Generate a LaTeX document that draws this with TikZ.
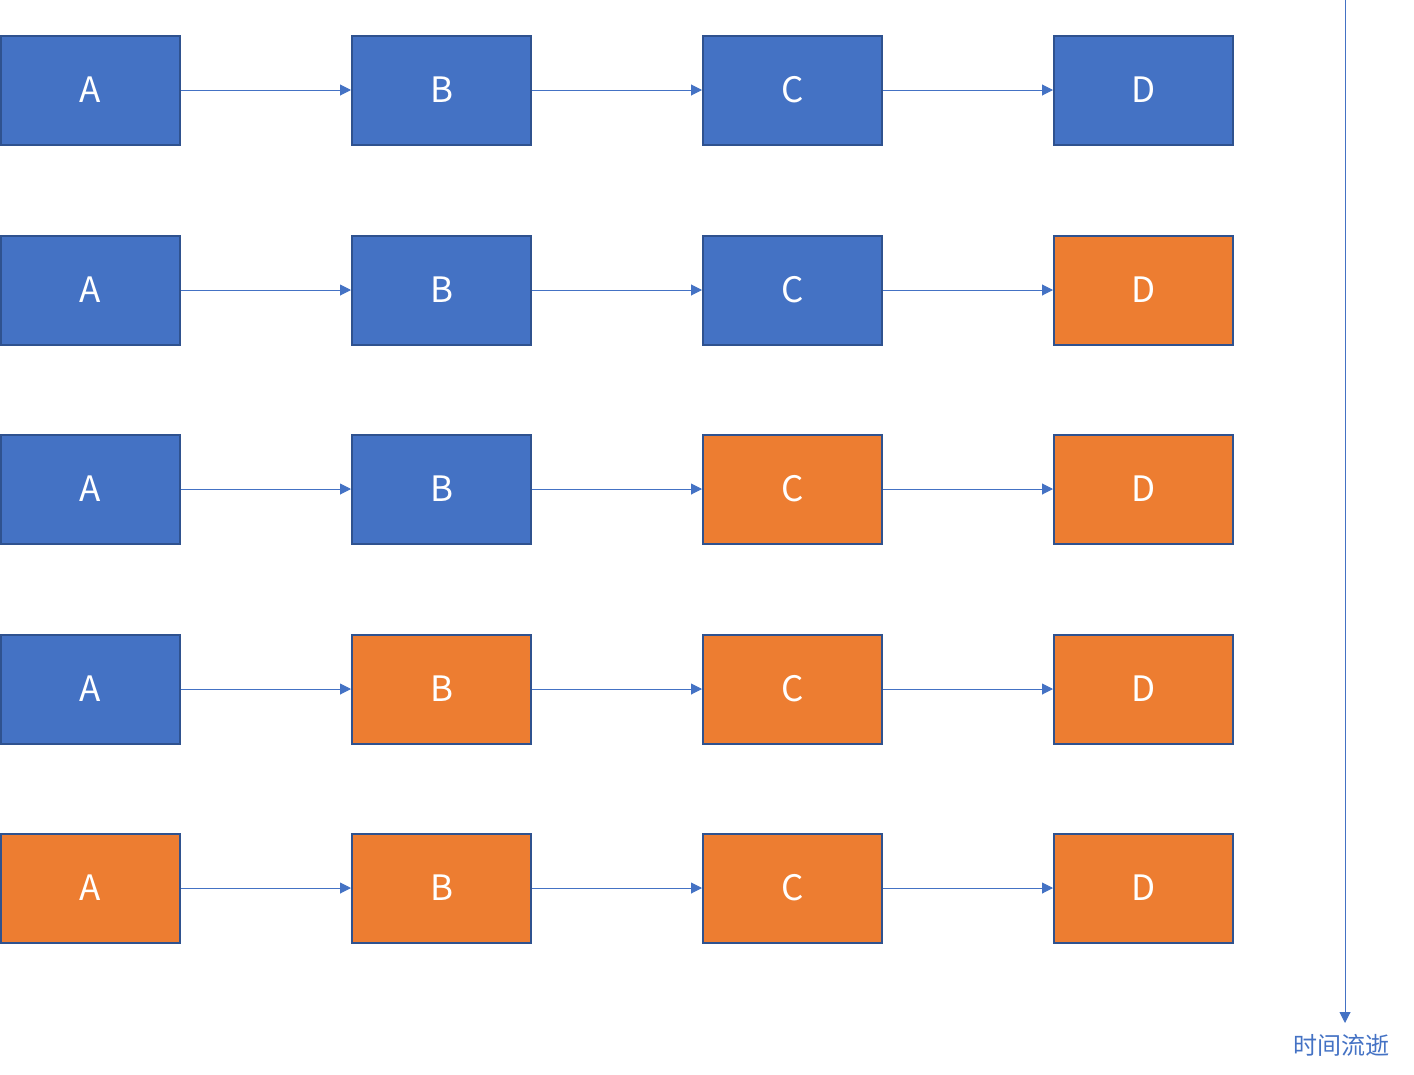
\documentclass[tikz,border=0pt]{standalone}
\usepackage{fontspec}
\setmainfont{Noto Sans CJK SC}
\usetikzlibrary{arrows.meta}
\definecolor{bfill}{HTML}{4472C4}
\definecolor{bdraw}{HTML}{2F528F}
\definecolor{ofill}{HTML}{ED7D31}
\newcommand{\lowtxt}[1]{\raisebox{-2pt}{#1}}
\begin{document}
\begin{tikzpicture}[x=1pt,y=-1pt,
  boxb/.style={draw=bdraw,line width=2pt,fill=bfill,minimum width=179pt,minimum height=109pt,inner sep=0pt,text=white,font=\fontsize{35}{35}\selectfont},
  boxo/.style={boxb,fill=ofill},
  conn/.style={draw=bfill,line width=1pt,-{Triangle[length=11pt,width=11pt]}}]
\useasboundingbox (0,0) rectangle (1414,1074);
\foreach \r/\y/\ca/\cb/\cc/\cd in {1/90/boxb/boxb/boxb/boxb,2/290/boxb/boxb/boxb/boxo,3/489/boxb/boxb/boxo/boxo,4/689/boxb/boxo/boxo/boxo,5/888/boxo/boxo/boxo/boxo}{
  \node[\ca] (a\r) at (90.5,\y) {\lowtxt{A}};
  \node[\cb] (b\r) at (441.5,\y) {\lowtxt{B}};
  \node[\cc] (c\r) at (792.5,\y) {\lowtxt{C}};
  \node[\cd] (d\r) at (1143.5,\y) {\lowtxt{D}};
  \draw[conn] (a\r) -- (b\r);
  \draw[conn] (b\r) -- (c\r);
  \draw[conn] (c\r) -- (d\r);
}
\coordinate (ts) at (1345,0);
\coordinate (te) at (1345,1023);
\draw[conn] (ts) -- (te);
\node[text=bfill,font=\fontsize{24}{24}\selectfont,inner sep=0pt] (lbl) at (1341,1045) {时间流逝};
\end{tikzpicture}
\end{document}
